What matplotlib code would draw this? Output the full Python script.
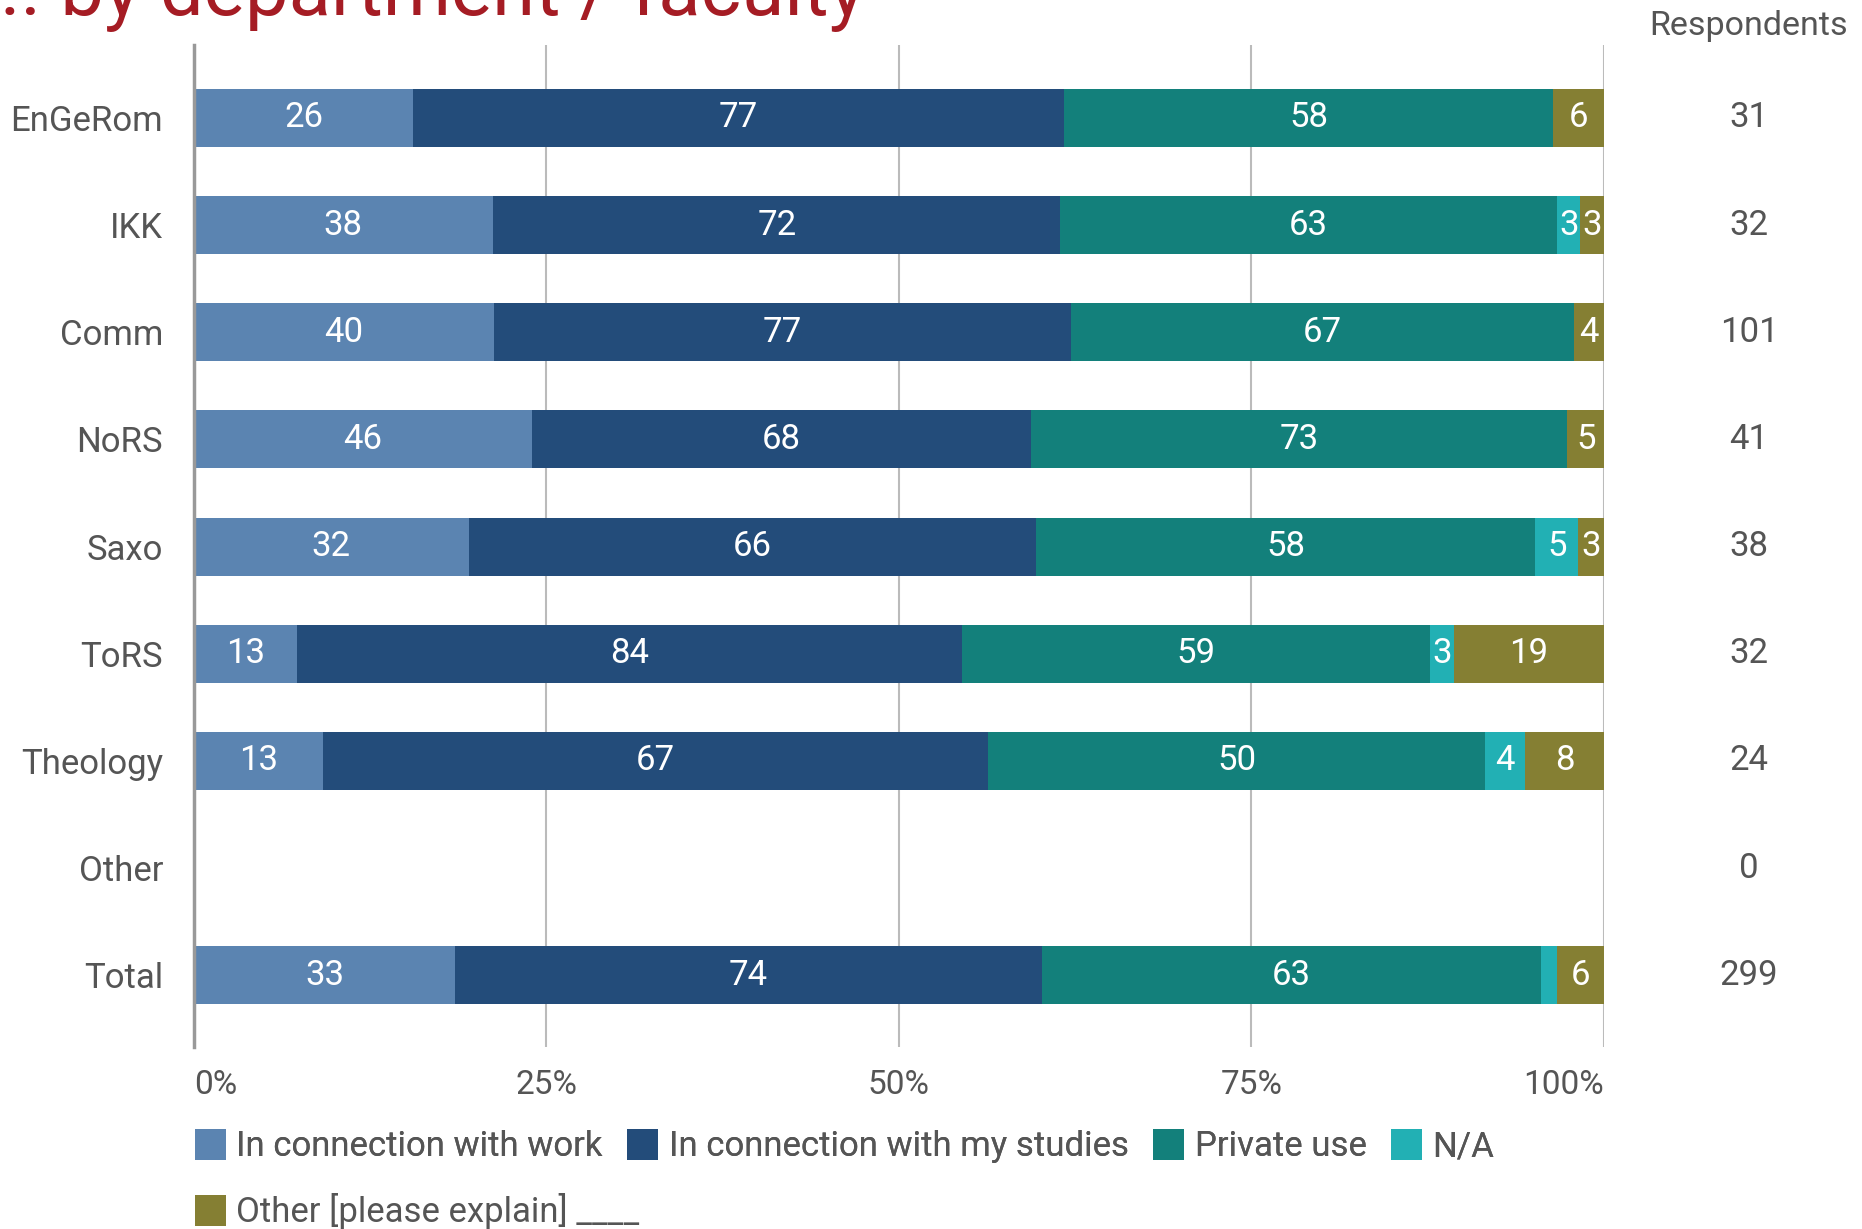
import numpy as np
import matplotlib.pyplot as plt
from matplotlib.patches import Patch
from matplotlib.transforms import blended_transform_factory

plt.rcParams['font.family'] = ['Roboto', 'DejaVu Sans']

# Data
departments = ['EnGeRom', 'IKK', 'Comm', 'NoRS', 'Saxo', 'ToRS', 'Theology', 'Other', 'Total']
work = [26, 38, 40, 46, 32, 13, 13, 0, 33]
studies = [77, 72, 77, 68, 66, 84, 67, 0, 74]
private = [58, 63, 67, 73, 58, 59, 50, 0, 63]
na = [0, 3, 0, 0, 5, 3, 4, 0, 2]
other = [6, 3, 4, 5, 3, 19, 8, 0, 6]
respondents = [31, 32, 101, 41, 38, 32, 24, 0, 299]

series_names = ['In connection with work', 'In connection with my studies',
                'Private use', 'N/A', 'Other [please explain] ____']
colors = ['#5b84b1', '#234c7a', '#13807b', '#22b0b4', '#857f33']

series = np.array([work, studies, private, na, other], dtype=float)
totals = series.sum(axis=0)
shares = np.divide(series, totals, out=np.zeros_like(series), where=totals > 0)

fig = plt.figure(figsize=(18.62, 12.29), dpi=100)
ax = fig.add_axes([0.104, 0.148, 0.7575, 0.8154])

y = np.arange(len(departments))
left = np.zeros(len(departments))
for i in range(len(series_names)):
    ax.barh(y, shares[i], left=left, height=0.54, color=colors[i], zorder=3)
    for j in range(len(departments)):
        if shares[i, j] >= 0.015:
            ax.text(left[j] + shares[i, j] / 2, y[j], f'{int(series[i, j])}',
                    ha='center', va='center', color='white', fontsize=25, zorder=4)
    left += shares[i]

ax.set_xlim(0, 1)
ax.set_ylim(8.67, -0.68)
ax.set_yticks(y)
ax.set_yticklabels(departments, fontsize=25, color='#555555')
ax.set_xticks([0, 0.25, 0.5, 0.75, 1.0])
xt = ax.set_xticklabels(['0%', '25%', '50%', '75%', '100%'], fontsize=24, color='#555555')
xt[0].set_ha('left')
xt[-1].set_ha('right')
ax.tick_params(axis='both', length=0)
ax.tick_params(axis='y', pad=22)
ax.tick_params(axis='x', pad=16)
ax.grid(axis='x', color='#bbbbbb', linewidth=1.5, zorder=0)
for s in ['top', 'right', 'bottom']:
    ax.spines[s].set_visible(False)
ax.spines['left'].set_color('#999999')
ax.spines['left'].set_linewidth(2.5)
ax.spines['left'].set_zorder(5)

# Respondents column
trans = blended_transform_factory(fig.transFigure, ax.transData)
for j, n in enumerate(respondents):
    ax.text(0.9393, y[j], str(n), transform=trans, ha='center', va='center',
            fontsize=25, color='#555555')
fig.text(0.9393, 1 - 26 / 1229, 'Respondents', ha='center', va='center',
         fontsize=24.5, color='#555555')

# Title, cut off at top edge as in the original
fig.text(0.0, 1 - 15 / 1229, '.. by department / faculty', ha='left', va='baseline',
         fontsize=56, color='#a51c24')

# Legend in two rows
handles = [Patch(facecolor=c, edgecolor='none') for c in colors]
leg1 = fig.legend(handles[:4], series_names[:4], ncol=4, loc='center left',
                  bbox_to_anchor=(0.097, 1 - 1146 / 1229), frameon=False,
                  fontsize=25, labelcolor='#555555', handlelength=0.9, handleheight=1.0,
                  handletextpad=0.3, columnspacing=0.7, borderaxespad=0)
leg2 = fig.legend(handles[4:], series_names[4:], loc='center left',
                  bbox_to_anchor=(0.097, 1 - 1211 / 1229), frameon=False,
                  fontsize=25, labelcolor='#555555', handlelength=0.9, handleheight=1.0,
                  handletextpad=0.3, borderaxespad=0)
fig.add_artist(leg1)

fig.savefig('out.png', dpi=100)
